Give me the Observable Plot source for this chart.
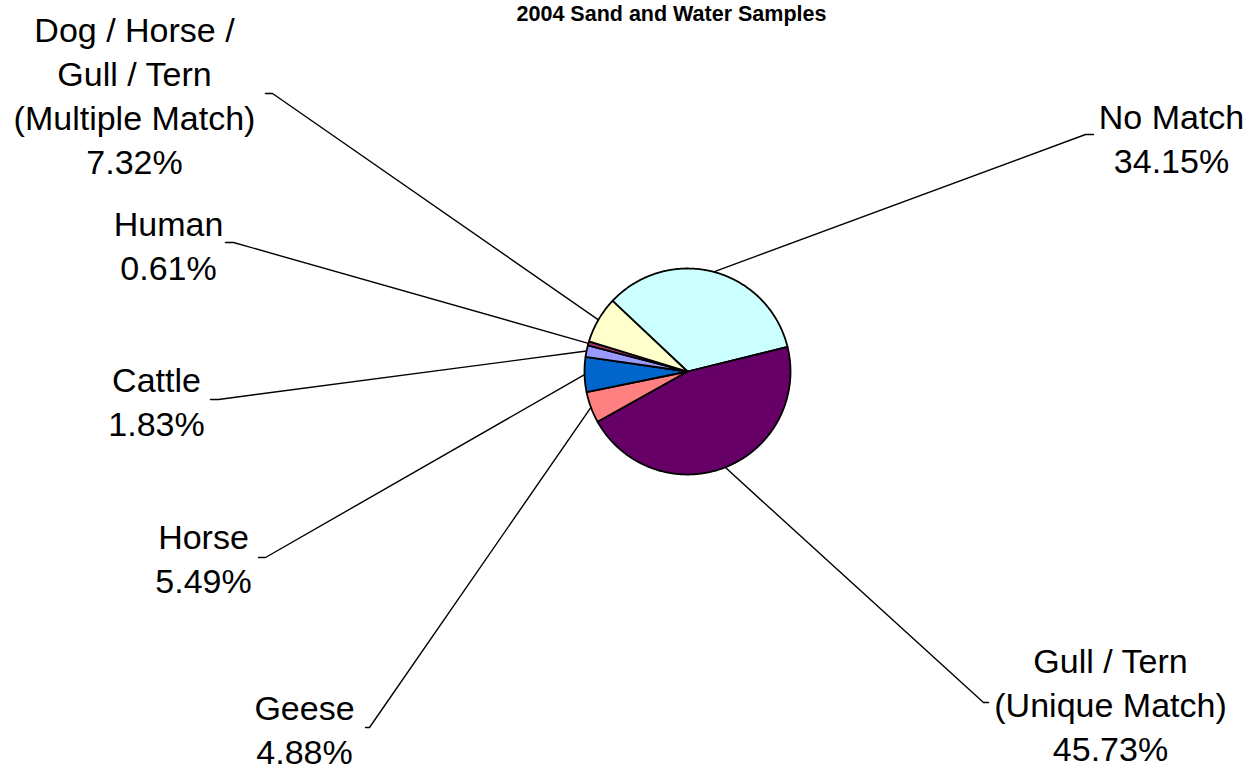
<!DOCTYPE html>
<html>
<head>
<meta charset="utf-8">
<script src="https://cdn.jsdelivr.net/npm/d3@7"></script>
<script src="https://cdn.jsdelivr.net/npm/@observablehq/plot@0.6"></script>
<style>
  html, body { margin: 0; padding: 0; background: #ffffff; }
  #chart { width: 1254px; height: 769px; overflow: hidden; }
</style>
</head>
<body>
<div id="chart"></div>
<script>
// ---- Data: source share of E. coli isolates ----
const chartTitle = "2004 Sand and Water Samples";
const categories = [
  "No Match",
  "Gull / Tern\n(Unique Match)",
  "Geese",
  "Horse",
  "Cattle",
  "Human",
  "Dog / Horse /\nGull / Tern\n(Multiple Match)"
];
const percents = [34.15, 45.73, 4.88, 5.49, 1.83, 0.61, 7.32];

// ---- Styles ----
const sliceColors = ["#CCFFFF", "#660066", "#FF8080", "#0066CC", "#9999FF", "#993366", "#FFFFCC"];
const fontFamily = "'Liberation Sans', Arial, Helvetica, sans-serif";

// ---- Layout (pixels) ----
const W = 1254, H = 769;
const pie = {cx: 687, cy: 371, r: 103, startDeg: -46.7};
// label block: centre x, baseline of last line; leader tail end (ex, ey) and bend x
const labelLayout = [
  {x: 1171, y: 172, ex: 1093, ey: 134, bx: 1085},
  {x: 1110, y: 760, ex: 988,  ey: 702, bx: 983},
  {x: 304,  y: 763, ex: 365,  ey: 727, bx: 369},
  {x: 203,  y: 592, ex: 258,  ey: 557, bx: 265},
  {x: 156,  y: 435, ex: 210,  ey: 399, bx: 218},
  {x: 168,  y: 279, ex: 225,  ey: 242, bx: 233},
  {x: 134,  y: 173, ex: 265,  ey: 93,  bx: 272}
];
const titleLayout = {x: 671, y: 20};
const fontSize = 34, lineGap = 44;

// ---- Geometry built from the data ----
const total = d3.sum(percents);
const rad = deg => deg * Math.PI / 180;
const polar = (deg, rr) => [pie.cx + rr * Math.sin(rad(deg)), pie.cy - rr * Math.cos(rad(deg))];

let acc = pie.startDeg;
const slices = categories.map((name, i) => {
  const span = percents[i] / total * 360;
  const s = {name, i, a0: acc, a1: acc + span, mid: acc + span / 2, color: sliceColors[i]};
  acc += span;
  return s;
});

const slicePoints = slices.flatMap(s => {
  const n = Math.max(2, Math.ceil((s.a1 - s.a0) / 0.5));
  const pts = [{name: s.name, color: s.color, px: pie.cx, py: pie.cy}];
  for (let k = 0; k <= n; k++) {
    const [px, py] = polar(s.a0 + (s.a1 - s.a0) * k / n, pie.r);
    pts.push({name: s.name, color: s.color, px, py});
  }
  return pts;
});

const leaderPoints = slices.flatMap(s => {
  const L = labelLayout[s.i];
  const [px, py] = polar(s.mid, pie.r);
  return [
    {name: s.name, px, py},
    {name: s.name, px: L.bx, py: L.ey},
    {name: s.name, px: L.ex, py: L.ey}
  ];
});

const labels = slices.map(s => ({
  x: labelLayout[s.i].x,
  y: labelLayout[s.i].y,
  text: `${s.name}\n${percents[s.i].toFixed(2)}%`
}));

const chart = Plot.plot({
  width: W,
  height: H,
  margin: 0,
  x: {domain: [0, W], range: [0, W], axis: null},
  y: {domain: [0, H], range: [0, H], axis: null},
  color: {type: "identity"},
  style: {fontFamily, background: "#ffffff", color: "#000000"},
  marks: [
    // leader lines
    Plot.line(leaderPoints, {x: "px", y: "py", z: "name", stroke: "#000000", strokeWidth: 1.4, curve: "linear"}),
    // pie slices
    Plot.line(slicePoints, {
      x: "px", y: "py", z: "name", fill: "color",
      stroke: "#000000", strokeWidth: 1.8, strokeLinejoin: "round", curve: "linear-closed"
    }),
    // category labels with percentages
    Plot.text(labels, {
      x: "x", y: "y", text: "text",
      fontSize, lineHeight: lineGap / fontSize, lineAnchor: "bottom",
      textAnchor: "middle", fill: "#000000"
    }),
    // chart title
    Plot.text([chartTitle], {
      x: () => titleLayout.x, y: () => titleLayout.y, text: d => d,
      fontSize: 21.5, fontWeight: "bold", lineAnchor: "bottom", textAnchor: "middle", fill: "#000000"
    })
  ]
});

document.getElementById("chart").appendChild(chart);
</script>
</body>
</html>
